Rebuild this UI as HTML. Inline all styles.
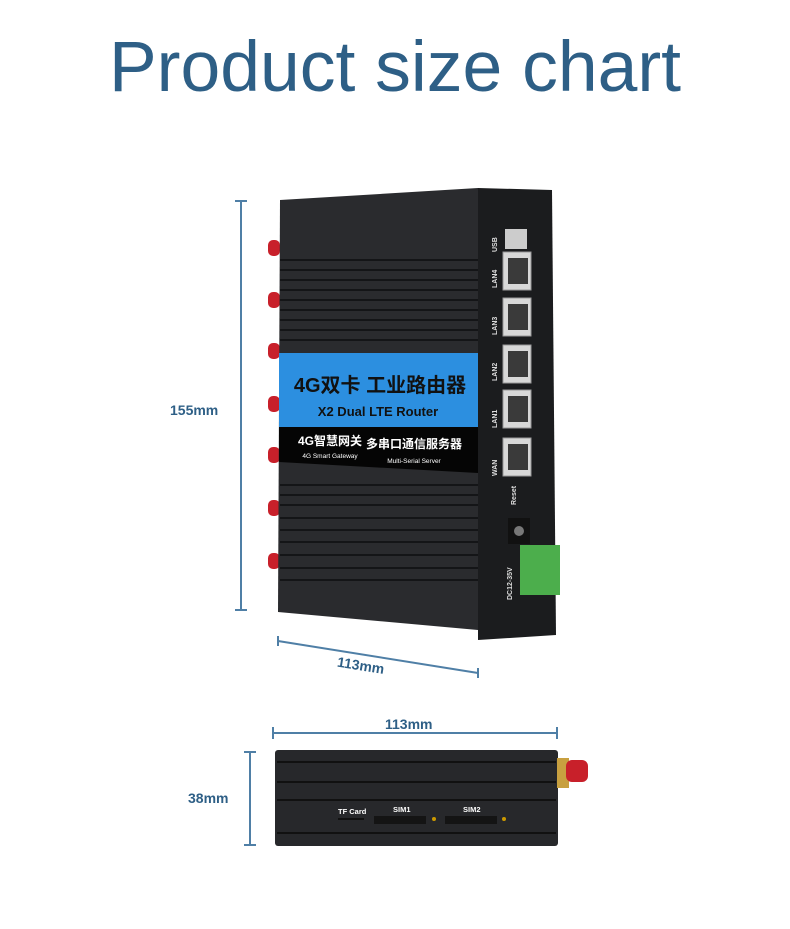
<!DOCTYPE html>
<html><head><meta charset="utf-8"><style>
body{margin:0;background:#fff;width:790px;height:924px;overflow:hidden;font-family:"Liberation Sans","Noto Sans CJK SC",sans-serif}
</style></head><body>
<svg width="790" height="924" viewBox="0 0 790 924" xmlns="http://www.w3.org/2000/svg" font-family="Liberation Sans, Noto Sans CJK SC, sans-serif">
<text x="395" y="91" text-anchor="middle" font-size="71" fill="#2e5f86" textLength="572" lengthAdjust="spacingAndGlyphs">Product size chart</text>
<g stroke="#4f7fa6" stroke-width="2" fill="none">
<line x1="241" y1="201" x2="241" y2="610"/><line x1="235" y1="201" x2="247" y2="201"/><line x1="235" y1="610" x2="247" y2="610"/>
<line x1="278" y1="641" x2="478" y2="673"/><line x1="278" y1="636" x2="278" y2="646"/><line x1="478" y1="668" x2="478" y2="678"/>
<line x1="273" y1="733" x2="557" y2="733"/><line x1="273" y1="727" x2="273" y2="739"/><line x1="557" y1="727" x2="557" y2="739"/>
<line x1="250" y1="752" x2="250" y2="845"/><line x1="244" y1="752" x2="256" y2="752"/><line x1="244" y1="845" x2="256" y2="845"/>
</g>
<g fill="#2e5f86" font-weight="bold" font-size="14">
<text x="170" y="415">155mm</text>
<text x="337" y="671" transform="rotate(9 365 666)">113mm</text>
<text x="385" y="729">113mm</text>
<text x="188" y="803">38mm</text>
</g>
<g fill="#c8202a">
<rect x="268" y="240" width="12" height="16" rx="5"/><rect x="268" y="292" width="12" height="16" rx="5"/><rect x="268" y="343" width="12" height="16" rx="5"/>
<rect x="268" y="396" width="12" height="16" rx="5"/><rect x="268" y="447" width="12" height="16" rx="5"/><rect x="268" y="500" width="12" height="16" rx="5"/><rect x="268" y="553" width="12" height="16" rx="5"/>
</g>
<path d="M280 200 L478 188 L478 630 L278 612 Z" fill="#2a2b2e"/>
<g stroke="#141517" stroke-width="2">
<line x1="280" y1="260" x2="478" y2="260"/><line x1="280" y1="270" x2="478" y2="270"/><line x1="280" y1="280" x2="478" y2="280"/><line x1="280" y1="290" x2="478" y2="290"/><line x1="280" y1="300" x2="478" y2="300"/><line x1="280" y1="310" x2="478" y2="310"/><line x1="280" y1="320" x2="478" y2="320"/><line x1="280" y1="330" x2="478" y2="330"/><line x1="280" y1="340" x2="478" y2="340"/>
<line x1="280" y1="485" x2="478" y2="485"/><line x1="280" y1="495" x2="478" y2="495"/><line x1="280" y1="505" x2="478" y2="505"/><line x1="280" y1="518" x2="478" y2="518"/><line x1="280" y1="530" x2="478" y2="530"/><line x1="280" y1="542" x2="478" y2="542"/><line x1="280" y1="555" x2="478" y2="555"/><line x1="280" y1="568" x2="478" y2="568"/><line x1="280" y1="580" x2="478" y2="580"/>
</g>
<rect x="279" y="353" width="199" height="75" fill="#2c8fe0"/>
<path d="M279 427 L478 427 L478 473 L279 462 Z" fill="#050505"/>
<text x="380" y="392" text-anchor="middle" font-size="20" font-weight="bold" fill="#111">4G双卡 工业路由器</text>
<text x="378" y="416" text-anchor="middle" font-size="13" font-weight="bold" fill="#111">X2 Dual LTE Router</text>
<text x="330" y="445" text-anchor="middle" font-size="12" font-weight="bold" fill="#fff">4G智慧网关</text>
<text x="330" y="458" text-anchor="middle" font-size="6.5" fill="#fff">4G Smart Gateway</text>
<text x="414" y="448" text-anchor="middle" font-size="12" font-weight="bold" fill="#fff">多串口通信服务器</text>
<text x="414" y="463" text-anchor="middle" font-size="6.5" fill="#fff">Multi-Serial Server</text>
<path d="M478 188 L552 190 L556 635 L478 640 Z" fill="#1b1c1e"/>
<rect x="505" y="229" width="22" height="20" fill="#ccc"/>
<g fill="#d8d8d8" stroke="#999">
<rect x="503" y="252" width="28" height="38"/><rect x="503" y="298" width="28" height="38"/><rect x="503" y="345" width="28" height="38"/><rect x="503" y="390" width="28" height="38"/><rect x="503" y="438" width="28" height="38"/>
</g>
<g fill="#3a3a3a"><rect x="508" y="258" width="20" height="26"/><rect x="508" y="304" width="20" height="26"/><rect x="508" y="351" width="20" height="26"/><rect x="508" y="396" width="20" height="26"/><rect x="508" y="444" width="20" height="26"/></g>
<g fill="#ddd" font-size="7" font-weight="bold">
<text transform="translate(497 252) rotate(-90)">USB</text>
<text transform="translate(497 288) rotate(-90)">LAN4</text>
<text transform="translate(497 335) rotate(-90)">LAN3</text>
<text transform="translate(497 381) rotate(-90)">LAN2</text>
<text transform="translate(497 428) rotate(-90)">LAN1</text>
<text transform="translate(497 476) rotate(-90)">WAN</text>
<text transform="translate(516 505) rotate(-90)">Reset</text>
<text transform="translate(512 600) rotate(-90)">DC12-35V</text>
</g>
<rect x="508" y="518" width="22" height="26" fill="#111"/><circle cx="519" cy="531" r="5" fill="#777"/>
<rect x="520" y="545" width="40" height="50" fill="#4cae4c"/>
<rect x="275" y="750" width="283" height="96" rx="3" fill="#27282b"/>
<g stroke="#111" stroke-width="2"><line x1="277" y1="762" x2="556" y2="762"/><line x1="277" y1="782" x2="556" y2="782"/><line x1="277" y1="800" x2="556" y2="800"/><line x1="277" y1="833" x2="556" y2="833"/></g>
<rect x="557" y="758" width="12" height="30" fill="#c8a040"/>
<rect x="566" y="760" width="22" height="22" rx="6" fill="#c8202a"/>
<g fill="#fff" font-size="7.5" font-weight="bold"><text x="338" y="814">TF Card</text><text x="393" y="812">SIM1</text><text x="463" y="812">SIM2</text></g>
<rect x="338" y="818" width="26" height="2" fill="#111"/>
<rect x="374" y="816" width="52" height="8" fill="#141414"/><rect x="445" y="816" width="52" height="8" fill="#141414"/>
<circle cx="434" cy="819" r="2" fill="#c90"/><circle cx="504" cy="819" r="2" fill="#c90"/>
</svg>
</body></html>
